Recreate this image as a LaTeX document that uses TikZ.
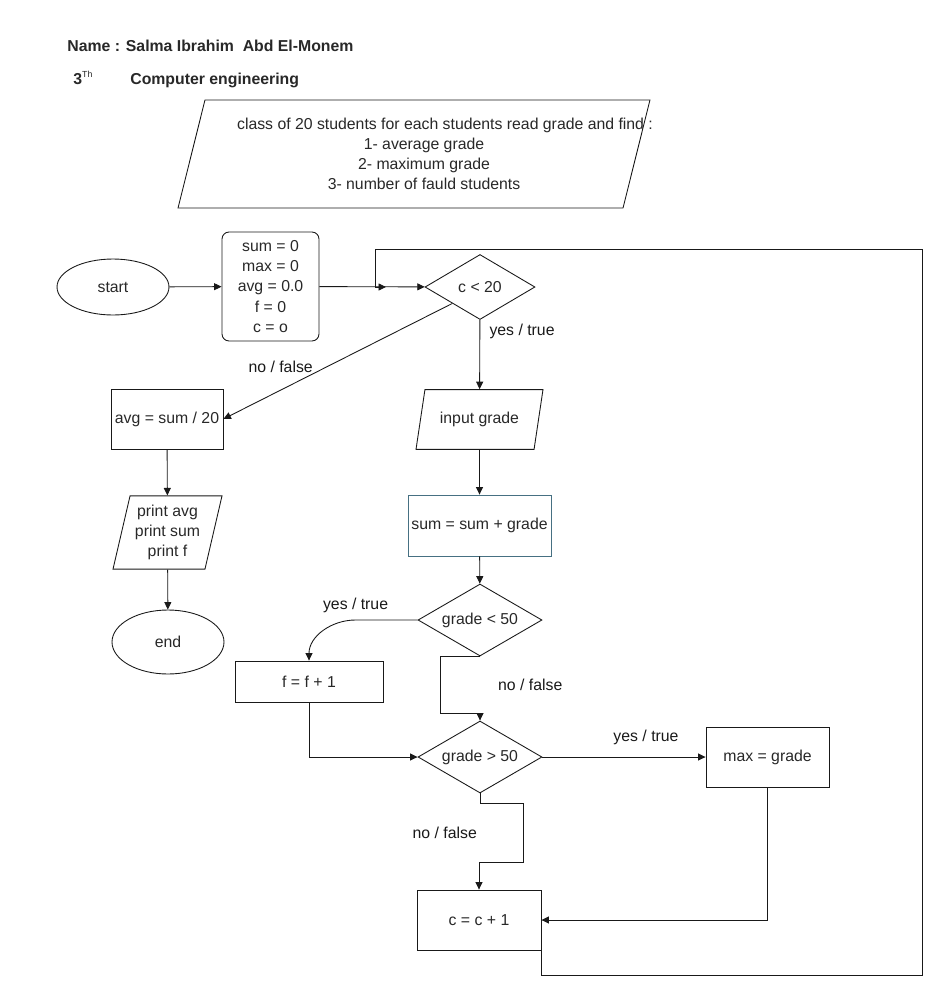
\documentclass[tikz,border=0pt]{standalone}
\usepackage{fontspec}
\setmainfont{Liberation Sans}
\usetikzlibrary{arrows.meta,positioning,shapes.geometric}
\definecolor{fcline}{RGB}{25,25,25}
\definecolor{fcteal}{RGB}{70,112,130}
\definecolor{fctext}{RGB}{40,40,40}

\begin{document}
\begin{tikzpicture}[x=0.02cm, y=-0.02cm,
  font=\fontsize{9}{11.5}\selectfont, text=fctext,
  box/.style={draw=fcline, line width=0.5pt, inner sep=1pt},
  iobox/.style={draw=fcline, line width=0.5pt, trapezium,
    trapezium stretches body=true, inner xsep=1pt},
  cond/.style={draw=fcline, line width=0.5pt, diamond,
    inner sep=0pt, aspect=1.7},
  term/.style={draw=fcline, line width=0.5pt, ellipse, inner sep=0pt},
  head/.style={anchor=base west, inner sep=0pt, font=\fontsize{9}{11}\selectfont\bfseries},
  lbl/.style={inner sep=1pt},
  arr/.style={-{Triangle[length=0.15cm, width=0.14cm]}, line width=0.5pt, fcline}]
\useasboundingbox (0,0) rectangle (944,998);
% Header
\node[head] (name) at (67,51) {Name : Salma Ibrahim\ \ Abd El-Monem};
\node[head] (year) at (73,84)
  {3\textsuperscript{\fontsize{5}{6}\selectfont\mdseries Th}};
\node[head] (dept) at (130,84) {Computer engineering};
% Problem statement
\node[iobox, trapezium left angle=76, trapezium right angle=104,
      minimum width=9.44cm, inner ysep=1.08cm,
      label={[align=center, xshift=0.2cm]center:{\hspace*{0.84cm}class of 20 students for each students read grade and find :\\
        1- average grade\\2- maximum grade\\3- number of fauld students}}] (task) at (414,154) {};
% Nodes
\node[term, minimum width=2.24cm, minimum height=1.12cm] (start) at (113,287) {start};
\node[box, rounded corners=4pt, minimum width=1.94cm, minimum height=2.18cm,
      align=center] (init) at (270.5,286.5)
  {sum = 0\\max = 0\\avg = 0.0\\f = 0\\c = o};
\node[cond, minimum width=2.2cm, minimum height=1.3cm] (loop) at (480,287) {c < 20};
\node[iobox, trapezium left angle=81.5, trapezium right angle=98.5,
      minimum width=2.54cm, inner ysep=0.45cm] (inp) at (479.5,419.5) {input grade};
\node[box, draw=fcteal, minimum width=2.86cm, minimum height=1.22cm] (acc)
  at (479.5,525.5) {sum = sum + grade};
\node[cond, minimum width=2.48cm, minimum height=1.44cm] (low) at (480,620) {grade < 50};
\node[box, minimum width=2.96cm, minimum height=0.82cm] (fail) at (309,681.5) {f = f + 1};
\node[cond, minimum width=2.48cm, minimum height=1.44cm] (high) at (480,757) {grade > 50};
\node[box, minimum width=2.46cm, minimum height=1.2cm] (max) at (767.5,757) {max = grade};
\node[box, minimum width=2.48cm, minimum height=1.2cm] (inc) at (479,920) {c = c + 1};
\node[box, minimum width=2.24cm, minimum height=1.2cm] (avg) at (167,419) {avg = sum / 20};
\node[iobox, trapezium left angle=76.9, trapezium right angle=103.1,
      minimum width=2.18cm, inner ysep=0.18cm, align=center] (out)
  at (167.5,532.5) {print avg\\print sum\\print f};
\node[term, minimum width=2.24cm, minimum height=1.28cm] (end) at (168,642) {end};
\coordinate (join) at (386,287);
% Arrows
\draw[arr] (start) -- (init);
\draw[arr] (init) -- (loop);
\draw[arr] (avg) -- (out);
\draw[arr] (out) -- (end);
\draw[arr] (inp) -- (acc);
\draw[arr] (acc) -- (low);
\draw[arr] (fail.south) |- (high.west);
\draw[arr] (max.south) |- (inc.east);
% Arrows with labels
\draw[arr] (loop.south west) -- (avg.east)
  node[lbl, pos=0.75, above=0.3cm] {no / false};
\draw[arr] (loop) -- (inp)
  node[lbl, pos=0.17, right=0.15cm] {yes / true};
\draw[arr] (low.west) -- ++(-62,0)
  node[lbl, above=0.1cm] {yes / true}
  to[out=180, in=90] (fail.north);
\draw[arr] (low.south) -- ++(-40,0) -- ++(0,57)
  node[lbl, midway, right=1.12cm] {no / false} -| (high.north);
\draw[arr] (high) -- (max)
  node[lbl, midway, above=0.2cm, xshift=0.44cm] {yes / true};
\draw[arr] (high.south) -- ++(0,10) -- ++(43,0) -- ++(0,59)
  node[lbl, midway, left=0.88cm] {no / false} -| (inc.north);
% Loop back to the counter test
\draw[arr] (inc.south east) -- ++(0,25) -| (922,249) -| (375,287) -- (join);
\end{tikzpicture}
\end{document}
